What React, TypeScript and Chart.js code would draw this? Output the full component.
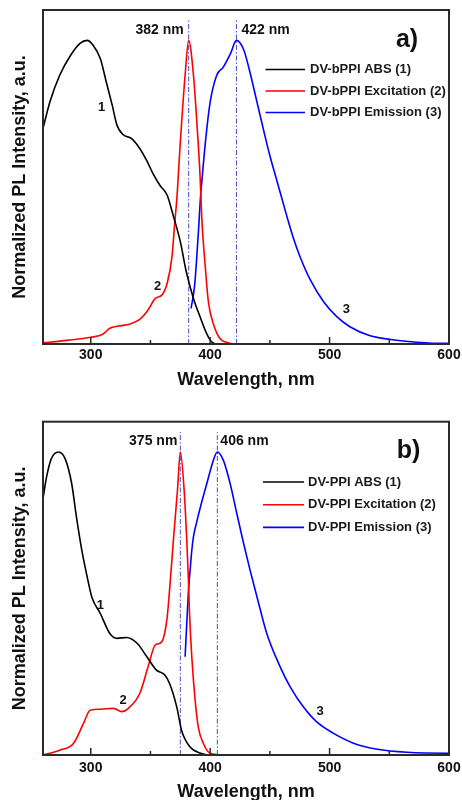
import React, { useEffect, useRef } from 'react';
import { Chart, registerables } from 'chart.js';

Chart.register(...registerables);

const FONT = '"Liberation Sans", Arial, Helvetica, sans-serif';

// shared axis data
const xTickValues = [300, 400, 500, 600];
const xMinorTickValues = [350, 450, 550];

// ---------- panel a) DV-bPPI ----------
const absAWl = [260, 266, 274, 283, 291, 297, 302, 308, 313, 318, 322, 327, 334, 341, 347, 352, 358, 364, 369, 375, 380, 386, 392, 397, 401, 405, 420, 480];
const absAVal = [0.71, 0.8, 0.885, 0.95, 0.99, 1.0, 0.984, 0.94, 0.863, 0.786, 0.72, 0.69, 0.677, 0.644, 0.603, 0.562, 0.522, 0.49, 0.424, 0.337, 0.238, 0.15, 0.085, 0.035, 0.008, 0.0, 0.0, 0.0];

const exAWl = [260, 280, 300, 310, 316, 323, 333, 341, 348, 354, 359.5, 364, 368, 370.5, 372, 375, 379, 382, 386, 389, 391.5, 393, 396, 398.5, 403, 408, 414, 420, 430];
const exAVal = [0.004, 0.012, 0.022, 0.032, 0.052, 0.059, 0.066, 0.081, 0.112, 0.15, 0.161, 0.2, 0.287, 0.408, 0.474, 0.665, 0.885, 1.0, 0.885, 0.72, 0.556, 0.413, 0.249, 0.139, 0.0625, 0.019, 0.005, 0.0, 0.0];

const emAWl = [384, 387, 390, 392, 393, 396, 400, 405.5, 411, 417, 422, 428, 433, 439, 445, 450, 455, 460, 465, 470, 475, 484, 495, 506, 517, 534, 551, 573, 598, 600];
const emAVal = [0.117, 0.194, 0.36, 0.49, 0.534, 0.665, 0.797, 0.885, 0.912, 0.956, 1.0, 0.97, 0.9, 0.8, 0.7, 0.62, 0.55, 0.48, 0.41, 0.345, 0.29, 0.21, 0.139, 0.09, 0.057, 0.027, 0.015, 0.006, 0.002, 0.002];

const legendA = ['DV-bPPI ABS (1)', 'DV-bPPI Excitation (2)', 'DV-bPPI Emission (3)'];
const peaksA = [382, 422];
const numLabelWlA = [309, 356, 514];
const numLabelValA = [0.78, 0.19, 0.115];

// ---------- panel b) DV-PPI ----------
const absBWl = [260, 263, 267, 273, 278.5, 284, 288, 292.5, 297, 301, 308, 316, 322, 330, 339, 347, 355, 362, 366, 372, 376, 383, 392, 400, 470];
const absBVal = [0.846, 0.918, 0.978, 1.0, 0.978, 0.896, 0.786, 0.676, 0.588, 0.52, 0.467, 0.401, 0.385, 0.388, 0.368, 0.324, 0.28, 0.264, 0.236, 0.159, 0.082, 0.027, 0.006, 0.0, 0.0];

const exBWl = [260, 274, 285.5, 294, 299.5, 308, 319, 326, 331.5, 341, 348, 354, 359.5, 363.7, 365.5, 369.2, 372.6, 375, 378.2, 380.4, 381.8, 382.6, 384.6, 387.4, 390, 394.3, 400, 410];
const exBVal = [0.0, 0.016, 0.038, 0.105, 0.148, 0.151, 0.154, 0.143, 0.154, 0.203, 0.291, 0.363, 0.374, 0.445, 0.52, 0.709, 0.874, 1.0, 0.874, 0.709, 0.577, 0.478, 0.324, 0.181, 0.093, 0.038, 0.006, 0.0];

const emBWl = [379, 380.4, 381.8, 383.2, 384.6, 386, 388.8, 391.6, 397.2, 402.7, 406, 411, 416.7, 422.3, 428, 433.4, 439, 447.4, 458.6, 467, 478, 489, 503, 520, 540, 565, 598, 600];
const emBVal = [0.324, 0.434, 0.54, 0.61, 0.675, 0.72, 0.77, 0.815, 0.896, 0.973, 1.0, 0.973, 0.896, 0.797, 0.698, 0.61, 0.525, 0.401, 0.291, 0.225, 0.159, 0.11, 0.072, 0.039, 0.019, 0.009, 0.006, 0.006];

const legendB = ['DV-PPI ABS (1)', 'DV-PPI Excitation (2)', 'DV-PPI Emission (3)'];
const peaksB = [375, 406];
const numLabelWlB = [308, 327, 492];
const numLabelValB = [0.495, 0.181, 0.143];

const seriesColors = ['#000000', '#ff0000', '#0000ff'];
const peakLineColor = '#4b4bc8';

type PanelDef = {
  letter: string;
  series: { wl: number[]; val: number[] }[];
  legend: string[];
  peaks: number[];
  numWl: number[];
  numVal: number[];
  canvasTop: number;
  canvasHeight: number;
  padTop: number;
  padBottom: number;
  axisHeight: number;
  tickPad: number;
  legTop: number;
  legGap: number;
  legX1: number;
  legX2: number;
  legTextX: number;
  peakDy: number;
  peakGap: number;
  letterX: number;
  letterDy: number;
};

const panels: PanelDef[] = [
  {
    letter: 'a)',
    series: [
      { wl: absAWl, val: absAVal },
      { wl: exAWl, val: exAVal },
      { wl: emAWl, val: emAVal },
    ],
    legend: legendA,
    peaks: peaksA,
    numWl: numLabelWlA,
    numVal: numLabelValA,
    canvasTop: 0,
    canvasHeight: 400,
    padTop: 10,
    padBottom: 9.2,
    axisHeight: 46.8,
    tickPad: 3,
    legTop: 59.5,
    legGap: 21.5,
    legX1: 265.5,
    legX2: 305,
    legTextX: 310,
    peakDy: 20,
    peakGap: 5,
    letterX: 407,
    letterDy: 30,
  },
  {
    letter: 'b)',
    series: [
      { wl: absBWl, val: absBVal },
      { wl: exBWl, val: exBVal },
      { wl: emBWl, val: emBVal },
    ],
    legend: legendB,
    peaks: peaksB,
    numWl: numLabelWlB,
    numVal: numLabelValB,
    canvasTop: 400,
    canvasHeight: 420,
    padTop: 21.7,
    padBottom: 17.2,
    axisHeight: 47.8,
    tickPad: 5,
    legTop: 60.3,
    legGap: 22.7,
    legX1: 263,
    legX2: 304,
    legTextX: 308,
    peakDy: 19.3,
    peakGap: 3,
    letterX: 408.5,
    letterDy: 29.3,
  },
];

function makeChart(canvas: HTMLCanvasElement, p: PanelDef) {
  const curveSets = p.series.map((s, i) => ({
    label: p.legend[i],
    data: s.wl.map((x, k) => ({ x, y: s.val[k] })),
    borderColor: seriesColors[i],
    backgroundColor: seriesColors[i],
    borderWidth: 1.6,
    pointRadius: 0,
    fill: false,
    cubicInterpolationMode: 'monotone' as const,
  }));
  const peakSets = p.peaks.map((v) => ({
    label: `${v} nm`,
    data: [
      { x: v, y: 0 },
      { x: v, y: 1.066 },
    ],
    borderColor: peakLineColor,
    borderWidth: 1,
    borderDash: [5, 2, 1.5, 2],
    pointRadius: 0,
    fill: false,
  }));

  const decor = {
    id: 'decor',
    afterDatasetsDraw(chart: any) {
      const { ctx, chartArea: ca, scales } = chart;
      const x = scales.x;
      const y = scales.y;
      ctx.save();
      // frame
      ctx.strokeStyle = '#2a2a2a';
      ctx.lineWidth = 2;
      ctx.strokeRect(ca.left, ca.top, ca.right - ca.left, ca.bottom - ca.top);
      // inside ticks
      ctx.lineWidth = 1.5;
      ctx.beginPath();
      xTickValues.forEach((v) => {
        const px = x.getPixelForValue(v);
        ctx.moveTo(px, ca.bottom);
        ctx.lineTo(px, ca.bottom - 7);
      });
      xMinorTickValues.forEach((v) => {
        const px = x.getPixelForValue(v);
        ctx.moveTo(px, ca.bottom);
        ctx.lineTo(px, ca.bottom - 4);
      });
      ctx.stroke();
      // peak labels
      ctx.fillStyle = '#111';
      ctx.textBaseline = 'middle';
      ctx.font = `bold 14px ${FONT}`;
      p.peaks.forEach((v, i) => {
        const px = x.getPixelForValue(v);
        ctx.textAlign = i === 0 ? 'right' : 'left';
        ctx.fillText(`${v} nm`, i === 0 ? px - p.peakGap : px + p.peakGap, ca.top + p.peakDy);
      });
      // curve numbers
      ctx.font = `bold 13px ${FONT}`;
      ctx.textAlign = 'center';
      p.numWl.forEach((w, i) => {
        ctx.fillText(String(i + 1), x.getPixelForValue(w), y.getPixelForValue(p.numVal[i]));
      });
      // legend
      p.legend.forEach((t, i) => {
        const yy = ca.top + p.legTop + i * p.legGap;
        ctx.strokeStyle = seriesColors[i];
        ctx.lineWidth = 1.6;
        ctx.beginPath();
        ctx.moveTo(p.legX1, yy);
        ctx.lineTo(p.legX2, yy);
        ctx.stroke();
        ctx.fillStyle = '#1a1a1a';
        ctx.textAlign = 'left';
        ctx.font = `bold 13px ${FONT}`;
        ctx.fillText(t, p.legTextX, yy);
      });
      // panel letter
      ctx.fillStyle = '#111';
      ctx.textAlign = 'center';
      ctx.font = `bold 25px ${FONT}`;
      ctx.fillText(p.letter, p.letterX, ca.top + p.letterDy);
      ctx.restore();
    },
  };

  return new Chart(canvas, {
    type: 'line',
    data: { datasets: [...curveSets, ...peakSets] as any },
    options: {
      animation: false,
      responsive: false,
      maintainAspectRatio: false,
      devicePixelRatio: 1,
      layout: { padding: { left: 9, right: 13, top: p.padTop, bottom: p.padBottom } },
      plugins: { legend: { display: false }, tooltip: { enabled: false } },
      scales: {
        x: {
          type: 'linear',
          min: 260,
          max: 600,
          afterBuildTicks: (s: any) => {
            s.ticks = xTickValues.map((v) => ({ value: v }));
          },
          afterFit: (s: any) => {
            s.height = p.axisHeight;
            s.paddingLeft = 0;
            s.paddingRight = 0;
          },
          ticks: {
            font: { family: FONT, size: 14, weight: 'bold' },
            color: '#111',
            padding: p.tickPad,
            maxRotation: 0,
            autoSkip: false,
          },
          grid: { display: false, drawTicks: false },
          border: { display: false },
          title: {
            display: true,
            text: 'Wavelength, nm',
            font: { family: FONT, size: 18, weight: 'bold' },
            color: '#111',
            padding: 0,
          },
        },
        y: {
          type: 'linear',
          min: 0,
          max: 1.1,
          afterFit: (s: any) => {
            s.width = 34;
            s.paddingTop = 0;
            s.paddingBottom = 0;
          },
          ticks: { display: false },
          grid: { display: false, drawTicks: false },
          border: { display: false },
          title: {
            display: true,
            text: 'Normalized PL Intensity, a.u.',
            font: { family: FONT, size: 18, weight: 'bold' },
            color: '#111',
            padding: 0,
          },
        },
      },
    } as any,
    plugins: [decor],
  });
}

export default function App() {
  const refA = useRef<HTMLCanvasElement>(null);
  const refB = useRef<HTMLCanvasElement>(null);

  useEffect(() => {
    const charts: Chart[] = [];
    if (refA.current) charts.push(makeChart(refA.current, panels[0]));
    if (refB.current) charts.push(makeChart(refB.current, panels[1]));
    return () => charts.forEach((c) => c.destroy());
  }, []);

  return (
    <div
      style={{
        position: 'absolute',
        left: 0,
        top: 0,
        width: 462,
        height: 800,
        overflow: 'hidden',
        background: '#fff',
      }}
    >
      <canvas
        ref={refA}
        width={462}
        height={panels[0].canvasHeight}
        style={{ position: 'absolute', left: 0, top: panels[0].canvasTop, display: 'block' }}
      />
      <canvas
        ref={refB}
        width={462}
        height={panels[1].canvasHeight}
        style={{ position: 'absolute', left: 0, top: panels[1].canvasTop, display: 'block' }}
      />
    </div>
  );
}
